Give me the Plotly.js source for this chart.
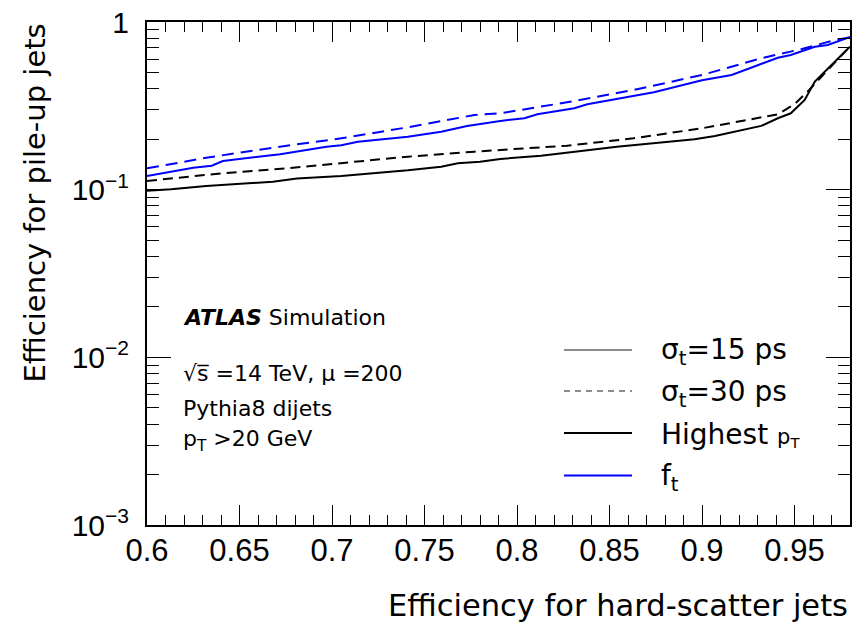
<!DOCTYPE html>
<html>
<head>
<meta charset="utf-8">
<script src="https://cdn.plot.ly/plotly-3.0.1.min.js"></script>
<style>html,body{margin:0;padding:0;background:#fff;}#chart{width:865px;height:623px;}</style>
</head>
<body>
<div id="chart"></div>
<script>
// ---- Data ----
// Highest pT, sigma_t = 15 ps (black solid)
const hpt15_x = [0.600, 0.613, 0.632, 0.668, 0.681, 0.705, 0.741, 0.759, 0.768, 0.780, 0.791, 0.813, 0.854, 0.896, 0.907, 0.932, 0.941, 0.948, 0.9555, 0.961, 0.970, 0.977, 0.980];
const hpt15_y = [0.0986, 0.1005, 0.105, 0.1116, 0.1164, 0.1207, 0.1305, 0.1371, 0.1437, 0.1469, 0.1524, 0.1595, 0.1805, 0.1998, 0.209, 0.240, 0.2665, 0.2855, 0.343, 0.441, 0.554, 0.665, 0.713];
// Highest pT, sigma_t = 30 ps (black dashed)
const hpt30_x = [0.600, 0.641, 0.676, 0.705, 0.741, 0.777, 0.791, 0.827, 0.863, 0.900, 0.941, 0.950, 0.957, 0.972, 0.979];
const hpt30_y = [0.1127, 0.1253, 0.1342, 0.1437, 0.1573, 0.1686, 0.1724, 0.183, 0.2025, 0.2323, 0.2816, 0.3229, 0.384, 0.58, 0.697];
// f_t, sigma_t = 15 ps (blue solid)
const ft15_x = [0.600, 0.625, 0.635, 0.641, 0.672, 0.697, 0.705, 0.714, 0.741, 0.759, 0.773, 0.791, 0.804, 0.811, 0.831, 0.838, 0.874, 0.889, 0.900, 0.916, 0.928, 0.941, 0.948, 0.961, 0.968, 0.980];
const ft15_y = [0.1207, 0.1353, 0.139, 0.1483, 0.1626, 0.1805, 0.184, 0.1932, 0.207, 0.2218, 0.2399, 0.257, 0.2666, 0.2816, 0.3057, 0.3231, 0.381, 0.4209, 0.4492, 0.483, 0.5414, 0.6124, 0.6355, 0.7122, 0.729, 0.814];
// f_t, sigma_t = 30 ps (blue dashed)
const ft30_x = [0.600, 0.632, 0.668, 0.705, 0.741, 0.777, 0.791, 0.827, 0.863, 0.900, 0.932, 0.954, 0.972, 0.979];
const ft30_y = [0.134, 0.155, 0.178, 0.2025, 0.2355, 0.2788, 0.2855, 0.332, 0.393, 0.483, 0.6074, 0.690, 0.781, 0.806];

// Tick labels
const xTickVals = [0.6, 0.65, 0.7, 0.75, 0.8, 0.85, 0.9, 0.95];
const xTickText = ["0.6", "0.65", "0.7", "0.75", "0.8", "0.85", "0.9", "0.95"];
const yTickVals = [0.001, 0.01, 0.1, 1];
const yTickText = ["10<sup>\u22123</sup>", "10<sup>\u22122</sup>", "10<sup>\u22121</sup>", "1"];
const yMinorVals = [];
[0.001, 0.01, 0.1].forEach(d => { for (let k = 2; k <= 9; k++) yMinorVals.push(+(k * d).toPrecision(3)); });

// Legend entries
const legendLabels = ["\u03c3<sub>t</sub>=15 ps", "\u03c3<sub>t</sub>=30 ps", "Highest <span style='font-size:21px'>p<sub>T</sub></span>", "f<sub>t</sub>"];
const legendColors = ["#8c8c8c", "#8c8c8c", "#000000", "#0000ff"];
const legendDash = ["solid", "6px,5px", "solid", "solid"];

const TXT = "DejaVu Sans, sans-serif";
const NUM = "Liberation Sans, Arial, sans-serif";

const traces = [
  {x: hpt15_x, y: hpt15_y, mode: "lines", line: {color: "#000000", width: 2}, name: "Highest pT 15 ps"},
  {x: hpt30_x, y: hpt30_y, mode: "lines", line: {color: "#000000", width: 2, dash: "10px,6px"}, name: "Highest pT 30 ps"},
  {x: ft15_x, y: ft15_y, mode: "lines", line: {color: "#0000ff", width: 2}, name: "ft 15 ps"},
  {x: ft30_x, y: ft30_y, mode: "lines", line: {color: "#0000ff", width: 2, dash: "12px,7px"}, name: "ft 30 ps"}
];

// pixel helpers for paper coords (plot area 147..850 x 22..525)
const px = v => (v - 147) / 703;
const py = v => (525 - v) / 503;

const legendRows = [350, 391, 433, 475.5];
const shapes = legendRows.map((r, i) => ({
  type: "line", xref: "paper", yref: "paper",
  x0: px(564), x1: px(632), y0: py(r), y1: py(r),
  line: {color: legendColors[i], width: 2, dash: legendDash[i]}
}));

const annotations = legendRows.map((r, i) => ({
  xref: "paper", yref: "paper", x: px(659), y: py(r + 2), xanchor: "left", yanchor: "middle",
  text: legendLabels[i], showarrow: false, font: {family: TXT, size: 28, color: "#000"}
}));

annotations.push(
  {xref: "paper", yref: "paper", x: px(181), y: py(317), xanchor: "left", yanchor: "middle", showarrow: false,
   text: "<b><i>ATLAS</i></b> Simulation", font: {family: TXT, size: 22, color: "#000"}},
  {xref: "paper", yref: "paper", x: px(181), y: py(373), xanchor: "left", yanchor: "middle", showarrow: false,
   text: "\u221as\u0305 =14 TeV, \u03bc =200", font: {family: TXT, size: 22, color: "#000"}},
  {xref: "paper", yref: "paper", x: px(181), y: py(408), xanchor: "left", yanchor: "middle", showarrow: false,
   text: "Pythia8 dijets", font: {family: TXT, size: 22, color: "#000"}},
  {xref: "paper", yref: "paper", x: px(181), y: py(440), xanchor: "left", yanchor: "middle", showarrow: false,
   text: "p<sub>T</sub> &gt;20 GeV", font: {family: TXT, size: 22, color: "#000"}},
  {xref: "paper", yref: "paper", x: 1, y: py(605), xanchor: "right", yanchor: "middle", showarrow: false,
   text: "Efficiency for hard-scatter jets", font: {family: TXT, size: 30.5, color: "#000"}},
  {xref: "paper", yref: "paper", x: px(34), y: 1, xanchor: "center", yanchor: "top", showarrow: false, textangle: -90,
   text: "Efficiency for pile-up jets", font: {family: TXT, size: 29, color: "#000"}}
);

const layout = {
  width: 865, height: 623,
  margin: {l: 147, r: 15, t: 22, b: 98, pad: 0},
  paper_bgcolor: "#ffffff", plot_bgcolor: "#ffffff",
  showlegend: false,
  xaxis: {
    range: [0.6, 0.98], showgrid: false, zeroline: false,
    tickmode: "array", tickvals: xTickVals, ticktext: xTickText,
    ticks: "inside", ticklen: 20, tickwidth: 1, tickcolor: "#000",
    minor: {dtick: 0.01, tick0: 0.6, ticks: "inside", ticklen: 10, tickwidth: 1, tickcolor: "#000", showgrid: false},
    showline: true, linewidth: 2, linecolor: "#000", mirror: "ticks",
    tickfont: {family: NUM, size: 31, color: "#000"},
    ticklabelstandoff: -3
  },
  yaxis: {
    type: "log", range: [-3, 0], showgrid: false, zeroline: false,
    tickmode: "array", tickvals: yTickVals, ticktext: yTickText,
    ticks: "inside", ticklen: 24, tickwidth: 1, tickcolor: "#000",
    minor: {tickmode: "array", tickvals: yMinorVals, ticks: "inside", ticklen: 12, tickwidth: 1, tickcolor: "#000", showgrid: false},
    showline: true, linewidth: 2, linecolor: "#000", mirror: "ticks",
    tickfont: {family: NUM, size: 30, color: "#000"},
    ticklabelstandoff: 10
  },
  shapes: shapes,
  annotations: annotations
};

Plotly.newPlot("chart", traces, layout, {displayModeBar: false, staticPlot: true});
</script>
</body>
</html>
